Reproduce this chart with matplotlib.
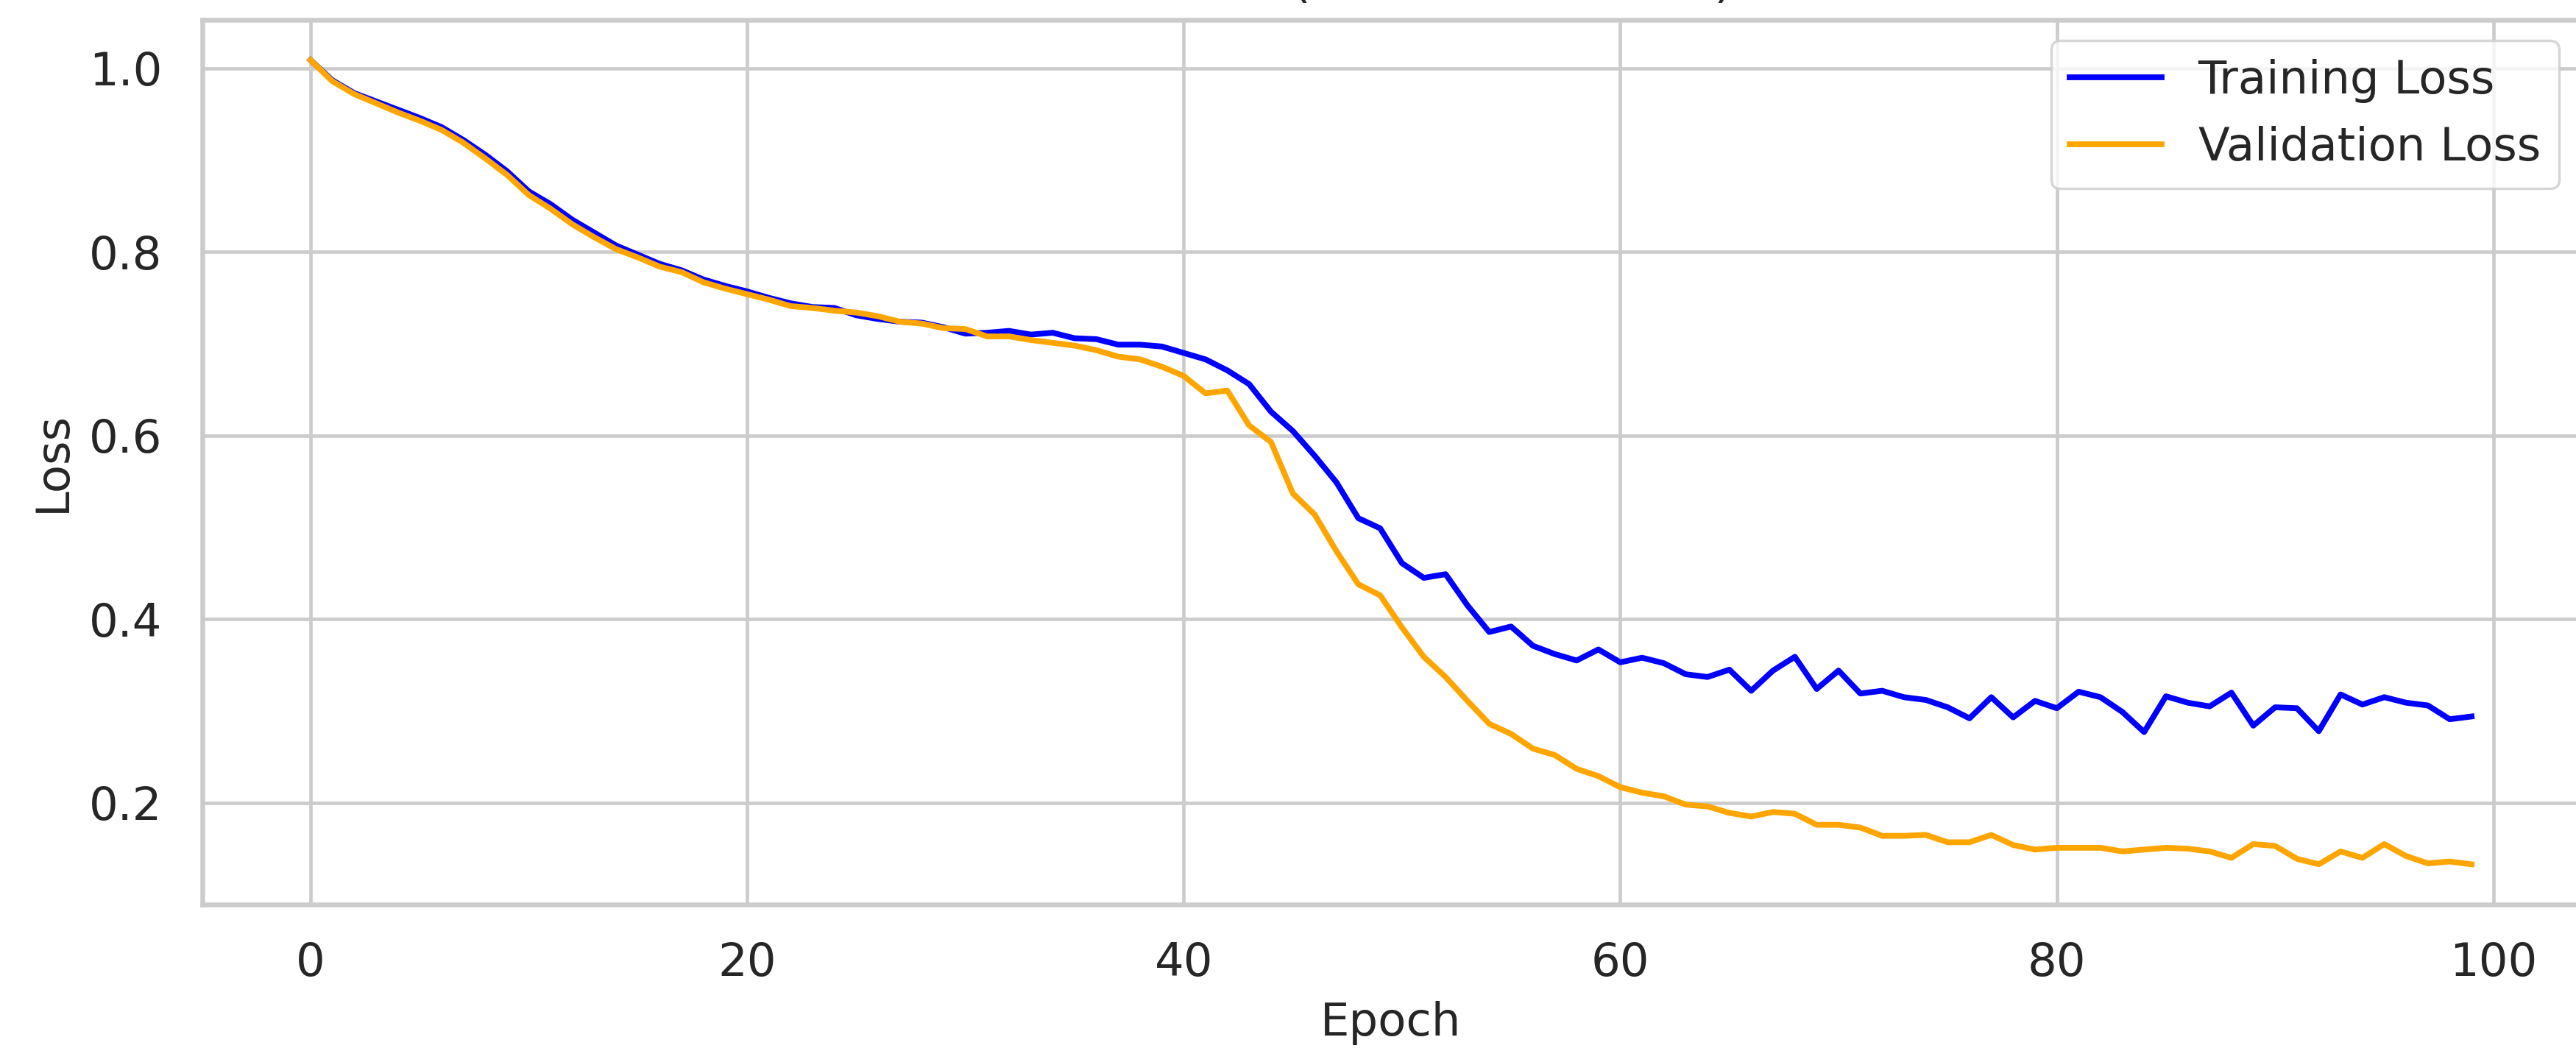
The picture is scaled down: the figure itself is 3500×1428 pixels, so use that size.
import matplotlib
matplotlib.use("Agg")
import matplotlib.pyplot as plt

# Per-epoch loss values
epochs = list(range(100))

training_loss = [
    1.009, 0.987, 0.973, 0.964, 0.955, 0.946, 0.936, 0.922, 0.906, 0.888,
    0.866, 0.852, 0.835, 0.821, 0.807, 0.797, 0.787, 0.780, 0.770, 0.763,
    0.757, 0.750, 0.744, 0.740, 0.739, 0.731, 0.727, 0.724, 0.723, 0.718,
    0.711, 0.712, 0.714, 0.710, 0.712, 0.706, 0.705, 0.699, 0.699, 0.697,
    0.690, 0.683, 0.671, 0.656, 0.626, 0.605, 0.578, 0.549, 0.510, 0.499,
    0.461, 0.445, 0.449, 0.415, 0.386, 0.392, 0.371, 0.362, 0.355, 0.367,
    0.353, 0.358, 0.352, 0.340, 0.337, 0.345, 0.322, 0.344, 0.359, 0.324,
    0.344, 0.319, 0.322, 0.315, 0.312, 0.304, 0.292, 0.315, 0.293, 0.311,
    0.303, 0.321, 0.315, 0.299, 0.277, 0.316, 0.309, 0.305, 0.320, 0.284,
    0.304, 0.303, 0.278, 0.318, 0.307, 0.315, 0.309, 0.306, 0.291, 0.294,
]

validation_loss = [
    1.009, 0.986, 0.972, 0.962, 0.952, 0.943, 0.933, 0.919, 0.902, 0.884,
    0.862, 0.847, 0.830, 0.816, 0.803, 0.794, 0.784, 0.778, 0.767, 0.760,
    0.754, 0.748, 0.741, 0.739, 0.736, 0.734, 0.730, 0.724, 0.722, 0.717,
    0.716, 0.708, 0.708, 0.704, 0.701, 0.698, 0.693, 0.686, 0.683, 0.675,
    0.665, 0.646, 0.649, 0.611, 0.593, 0.537, 0.514, 0.474, 0.438, 0.426,
    0.391, 0.359, 0.337, 0.311, 0.286, 0.275, 0.259, 0.252, 0.237, 0.229,
    0.217, 0.211, 0.207, 0.198, 0.196, 0.189, 0.185, 0.190, 0.188, 0.176,
    0.176, 0.173, 0.164, 0.164, 0.165, 0.157, 0.157, 0.165, 0.154, 0.149,
    0.151, 0.151, 0.151, 0.147, 0.149, 0.151, 0.150, 0.147, 0.140, 0.155,
    0.153, 0.139, 0.133, 0.147, 0.140, 0.155, 0.142, 0.134, 0.136, 0.133,
]

series_labels = ["Training Loss", "Validation Loss"]
series_colors = ["blue", "orange"]

text_color = "#262626"
grid_color = "#cccccc"
fs = 18

plt.rcParams.update({
    "font.family": ["DejaVu Sans"],
    "font.size": fs,
    "text.color": text_color,
    "axes.labelcolor": text_color,
    "xtick.color": text_color,
    "ytick.color": text_color,
})

fig = plt.figure(figsize=(14, 5.712), dpi=250)
ax = fig.add_axes([0.0786, 0.1394, 1.0014 - 0.0786, 0.9811 - 0.1394])
ax.set_facecolor("white")

ax.plot(epochs, training_loss, color=series_colors[0], lw=2.25, label=series_labels[0])
ax.plot(epochs, validation_loss, color=series_colors[1], lw=2.25, label=series_labels[1])

ax.set_xticks([0, 20, 40, 60, 80, 100])
ax.set_yticks([0.2, 0.4, 0.6, 0.8, 1.0])
ax.grid(True, color=grid_color, lw=1.35)
ax.set_axisbelow(True)
for sp in ax.spines.values():
    sp.set_color(grid_color)
    sp.set_linewidth(1.875)

ax.tick_params(axis="x", length=0, pad=14.4, labelsize=fs)
ax.tick_params(axis="y", length=0, pad=15.8, labelsize=fs)
ax.set_xlabel("Epoch", fontsize=fs, labelpad=6.2)
ax.set_ylabel("Loss", fontsize=fs, labelpad=5.5)

leg = ax.legend(loc="upper right", fontsize=fs, frameon=True, fancybox=True,
                framealpha=0.8, edgecolor=grid_color, borderaxespad=0.45)
leg.get_frame().set_linewidth(1.0)
for t in leg.get_texts():
    t.set_color(text_color)

# Title sits above the top edge of the canvas
fig.text(0.386, 1 + 4 / 1428, "Loss Curves (Random Seed 42)", ha="left",
         va="baseline", fontsize=18.5, color=text_color)

fig.savefig("out.png", dpi=250)
